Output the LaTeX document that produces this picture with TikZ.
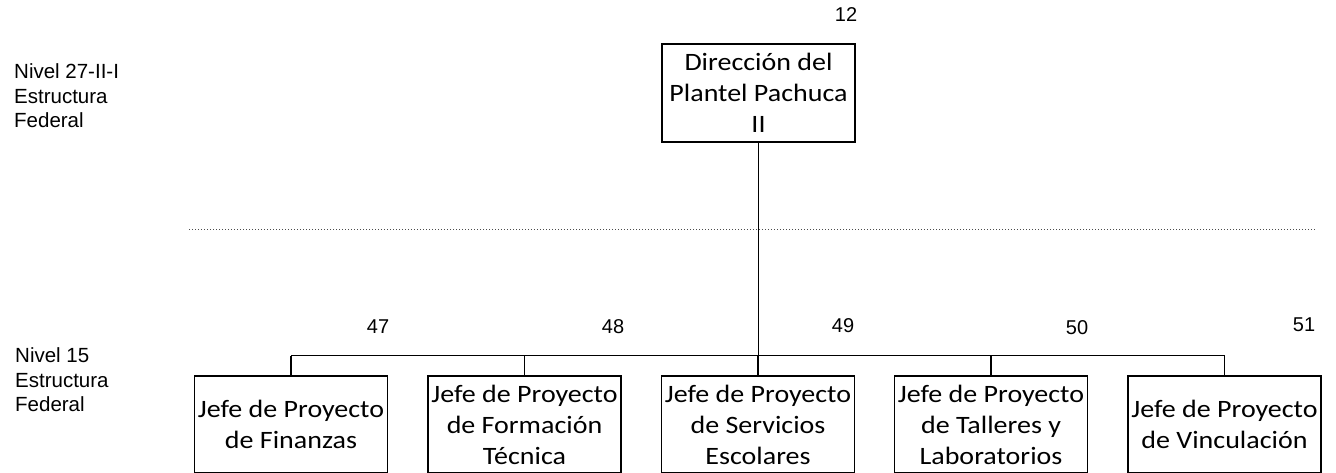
\documentclass[tikz,border=0pt]{standalone}
\usepackage{fontspec}
\setmainfont{Liberation Sans}
\newfontfamily\boxfont[FakeStretch=1.12]{Carlito}
\begin{document}
\begin{tikzpicture}[x=1pt,y=-1pt,
  orgbox/.style={draw=black,line width=1.4pt,minimum width=193pt,minimum height=97pt,
    inner sep=0pt,align=center,font=\boxfont\fontsize{25}{31}\selectfont},
  lbl/.style={inner sep=0pt,align=left,anchor=west,font=\fontsize{20.5}{24.5}\selectfont},
  num/.style={inner sep=0pt,font=\fontsize{20}{24}\selectfont},
  conn/.style={line width=1.4pt,black},
  sep/.style={line width=0.9pt,black!70,dash pattern=on 1.2pt off 1.8pt}]
\useasboundingbox (0,0) rectangle (1336,472);
% top box
\node[orgbox,minimum height=98pt] (top) at (758.5,93) {Dirección del\\Plantel Pachuca\\II};
\node[num] (n12) at (846,15) {12};
% level labels
\node[lbl] (lv1) at (14,96) {Nivel 27-II-I\\Estructura\\Federal};
\node[lbl] (lv2) at (15,380) {Nivel 15\\Estructura\\Federal};
% separator
\coordinate (dl) at (189,229);
\coordinate (dr) at (1316,229);
\draw[sep] (dl) -- (dr);
% bottom boxes
\node[orgbox] (b1) at (291,424.5) {Jefe de Proyecto\\de Finanzas};
\node[orgbox] (b2) at (524.5,424.5) {Jefe de Proyecto\\de Formación\\Técnica};
\node[orgbox] (b3) at (758,424.5) {Jefe de Proyecto\\de Servicios\\Escolares};
\node[orgbox] (b4) at (991,424.5) {Jefe de Proyecto\\de Talleres y\\Laboratorios};
\node[orgbox] (b5) at (1224.5,424.5) {Jefe de Proyecto\\de Vinculación};
% numbers
\node[num] (n47) at (378,327) {47};
\node[num] (n48) at (613,327) {48};
\node[num] (n49) at (843,326) {49};
\node[num] (n50) at (1077,328) {50};
\node[num] (n51) at (1304,325) {51};
% connectors
\coordinate (bus) at (758,355.5);
\draw[conn] (top.south) -- (top.south |- bus);
\draw[conn] (b1.north |- bus) -- (b5.north |- bus);
\foreach \b in {b1,b2,b3,b4,b5}{\draw[conn] (\b.north) -- (\b.north |- bus);}
\end{tikzpicture}
\end{document}
